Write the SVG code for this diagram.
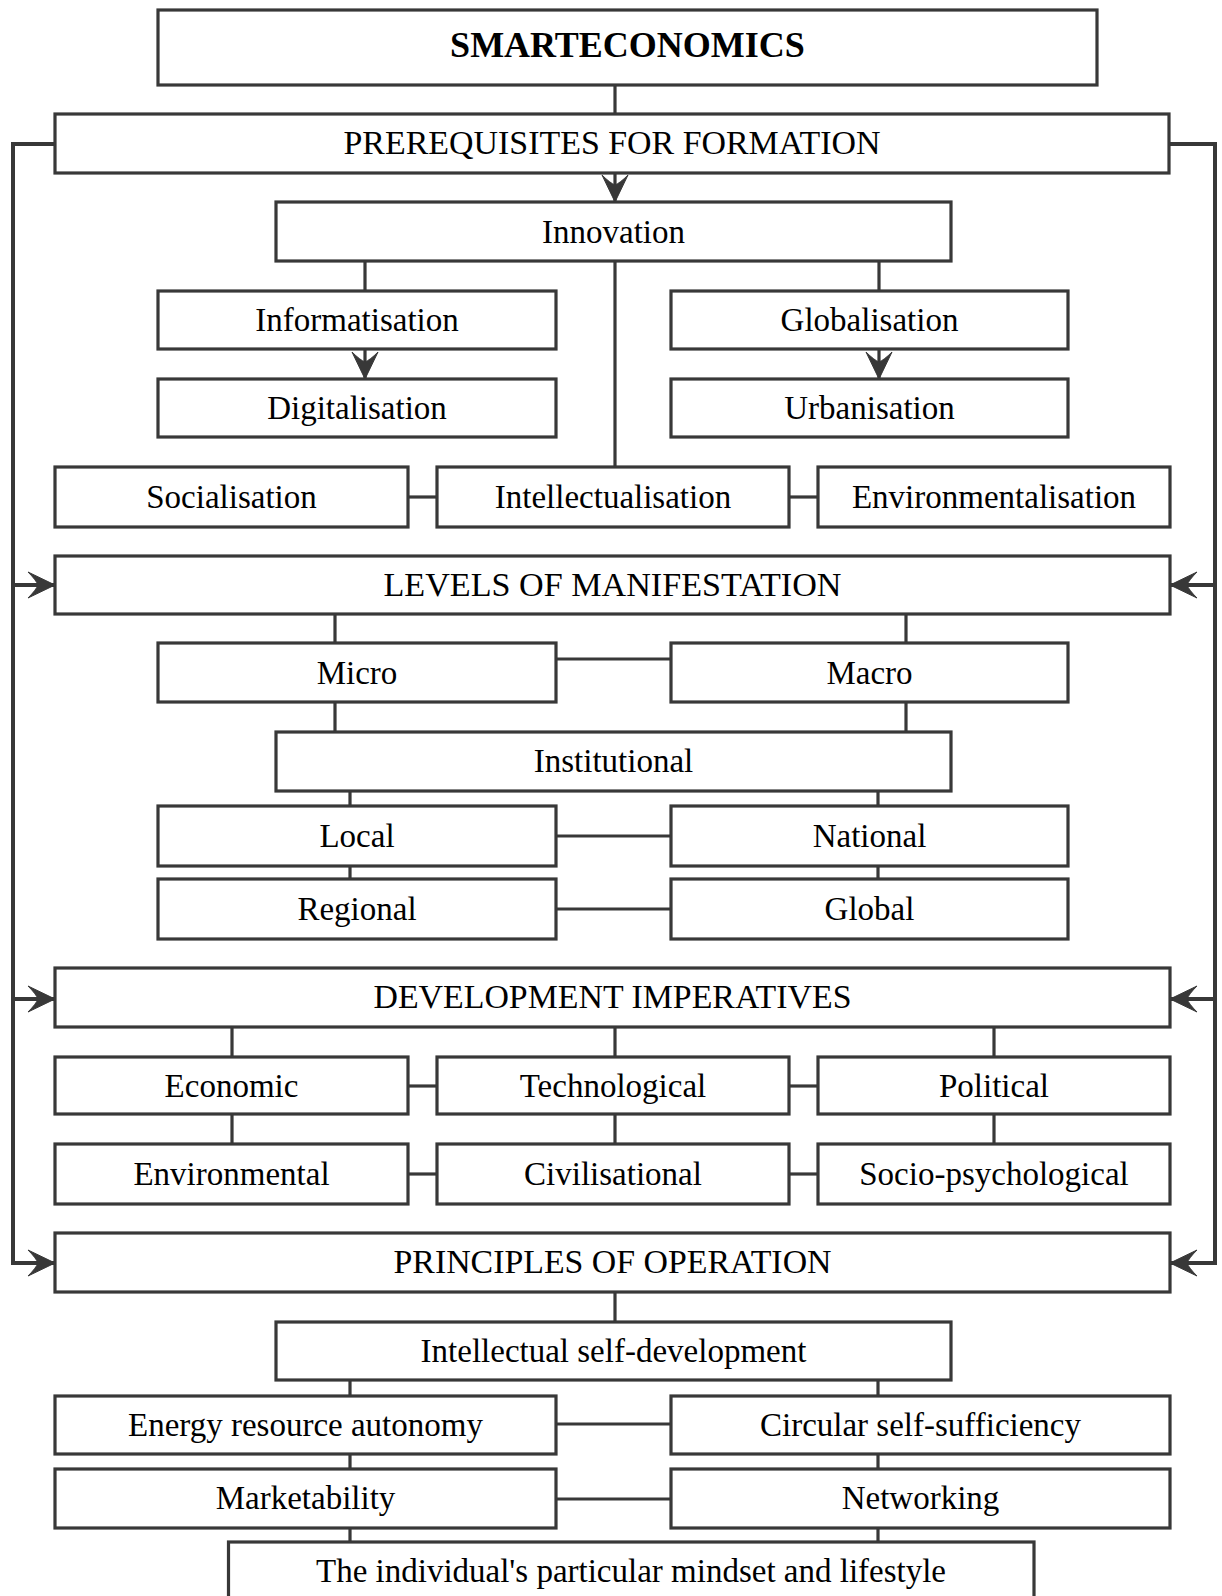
<svg xmlns="http://www.w3.org/2000/svg" width="1222" height="1596" viewBox="0 0 1222 1596">
  <style>
    .box { fill: #ffffff; stroke: #383838; stroke-width: 3.2; }
    .lbl { font-family: "Liberation Serif", "Times New Roman", serif; font-size: 33px; fill: #000; text-anchor: middle; }
    .title { font-weight: bold; font-size: 36px; }
    .ln { fill: none; stroke: #383838; stroke-width: 3.2; }
    .side { fill: none; stroke: #383838; stroke-width: 4; }
  </style>
  <defs>
    <marker id="arr" markerUnits="userSpaceOnUse" viewBox="0 0 28 28" refX="27" refY="14" markerWidth="28" markerHeight="28" orient="auto">
      <path d="M28,14 L1,1 Q9,9 11,14 Q9,19 1,27 Z" fill="#383838" stroke="#383838" stroke-width="1" stroke-linejoin="round"/>
    </marker>
  </defs>

  <!-- connectors -->
  <g id="connectors">
    <line class="ln" x1="615" y1="85" x2="615" y2="114"/>
    <line class="ln" x1="615" y1="173" x2="615" y2="201" marker-end="url(#arr)"/>
    <line class="ln" x1="365" y1="261" x2="365" y2="291"/>
    <line class="ln" x1="615" y1="261" x2="615" y2="467"/>
    <line class="ln" x1="879" y1="261" x2="879" y2="291"/>
    <line class="ln" x1="365" y1="349" x2="365" y2="378" marker-end="url(#arr)"/>
    <line class="ln" x1="879" y1="349" x2="879" y2="378" marker-end="url(#arr)"/>
    <line class="ln" x1="408" y1="497" x2="437" y2="497"/>
    <line class="ln" x1="789" y1="497" x2="818" y2="497"/>

    <!-- feedback rails -->
    <path class="side" d="M55,144 H13 V1263 H54" marker-end="url(#arr)"/>
    <line class="side" x1="13" y1="585" x2="54" y2="585" marker-end="url(#arr)"/>
    <line class="side" x1="13" y1="999" x2="54" y2="999" marker-end="url(#arr)"/>
    <path class="side" d="M1169,144 H1215 V1263 H1171" marker-end="url(#arr)"/>
    <line class="side" x1="1215" y1="585" x2="1171" y2="585" marker-end="url(#arr)"/>
    <line class="side" x1="1215" y1="999" x2="1171" y2="999" marker-end="url(#arr)"/>

    <line class="ln" x1="335" y1="614" x2="335" y2="643"/>
    <line class="ln" x1="906" y1="614" x2="906" y2="643"/>
    <line class="ln" x1="556" y1="659" x2="671" y2="659"/>
    <line class="ln" x1="335" y1="702" x2="335" y2="732"/>
    <line class="ln" x1="906" y1="702" x2="906" y2="732"/>
    <line class="ln" x1="350" y1="791" x2="350" y2="806"/>
    <line class="ln" x1="878" y1="791" x2="878" y2="806"/>
    <line class="ln" x1="556" y1="836" x2="671" y2="836"/>
    <line class="ln" x1="350" y1="866" x2="350" y2="879"/>
    <line class="ln" x1="878" y1="866" x2="878" y2="879"/>
    <line class="ln" x1="556" y1="909" x2="671" y2="909"/>

    <line class="ln" x1="232" y1="1027" x2="232" y2="1057"/>
    <line class="ln" x1="615" y1="1027" x2="615" y2="1057"/>
    <line class="ln" x1="994" y1="1027" x2="994" y2="1057"/>
    <line class="ln" x1="232" y1="1114" x2="232" y2="1144"/>
    <line class="ln" x1="615" y1="1114" x2="615" y2="1144"/>
    <line class="ln" x1="994" y1="1114" x2="994" y2="1144"/>
    <line class="ln" x1="408" y1="1086" x2="437" y2="1086"/>
    <line class="ln" x1="789" y1="1086" x2="818" y2="1086"/>
    <line class="ln" x1="408" y1="1174" x2="437" y2="1174"/>
    <line class="ln" x1="789" y1="1174" x2="818" y2="1174"/>

    <line class="ln" x1="615" y1="1292" x2="615" y2="1322"/>
    <line class="ln" x1="350" y1="1380" x2="350" y2="1396"/>
    <line class="ln" x1="878" y1="1380" x2="878" y2="1396"/>
    <line class="ln" x1="556" y1="1424" x2="671" y2="1424"/>
    <line class="ln" x1="350" y1="1454" x2="350" y2="1469"/>
    <line class="ln" x1="878" y1="1454" x2="878" y2="1469"/>
    <line class="ln" x1="556" y1="1499" x2="671" y2="1499"/>
    <line class="ln" x1="350" y1="1528" x2="350" y2="1542"/>
    <line class="ln" x1="878" y1="1528" x2="878" y2="1542"/>
  </g>

  <!-- nodes -->
  <g id="smarteconomics"><rect class="box" x="158" y="10" width="939" height="75"/><text class="lbl title" x="627.5" y="57">SMARTECONOMICS</text></g>
  <g id="prerequisites"><rect class="box" x="55" y="114" width="1114" height="59"/><text class="lbl" x="612" y="154" textLength="537" lengthAdjust="spacingAndGlyphs">PREREQUISITES FOR FORMATION</text></g>
  <g id="innovation"><rect class="box" x="276" y="202" width="675" height="59"/><text class="lbl" x="613.5" y="243">Innovation</text></g>
  <g id="informatisation"><rect class="box" x="158" y="291" width="398" height="58"/><text class="lbl" x="357" y="331">Informatisation</text></g>
  <g id="digitalisation"><rect class="box" x="158" y="379" width="398" height="58"/><text class="lbl" x="357" y="419">Digitalisation</text></g>
  <g id="globalisation"><rect class="box" x="671" y="291" width="397" height="58"/><text class="lbl" x="869.5" y="331">Globalisation</text></g>
  <g id="urbanisation"><rect class="box" x="671" y="379" width="397" height="58"/><text class="lbl" x="869.5" y="419">Urbanisation</text></g>
  <g id="socialisation"><rect class="box" x="55" y="467" width="353" height="60"/><text class="lbl" x="231.5" y="508">Socialisation</text></g>
  <g id="intellectualisation"><rect class="box" x="437" y="467" width="352" height="60"/><text class="lbl" x="613" y="508">Intellectualisation</text></g>
  <g id="environmentalisation"><rect class="box" x="818" y="467" width="352" height="60"/><text class="lbl" x="994" y="508">Environmentalisation</text></g>

  <g id="levels"><rect class="box" x="55" y="556" width="1115" height="58"/><text class="lbl" x="612.5" y="596" textLength="458" lengthAdjust="spacingAndGlyphs">LEVELS OF MANIFESTATION</text></g>
  <g id="micro"><rect class="box" x="158" y="643" width="398" height="59"/><text class="lbl" x="357" y="683.5">Micro</text></g>
  <g id="macro"><rect class="box" x="671" y="643" width="397" height="59"/><text class="lbl" x="869.5" y="683.5">Macro</text></g>
  <g id="institutional"><rect class="box" x="276" y="732" width="675" height="59"/><text class="lbl" x="613.5" y="772">Institutional</text></g>
  <g id="local"><rect class="box" x="158" y="806" width="398" height="60"/><text class="lbl" x="357" y="847">Local</text></g>
  <g id="national"><rect class="box" x="671" y="806" width="397" height="60"/><text class="lbl" x="869.5" y="847">National</text></g>
  <g id="regional"><rect class="box" x="158" y="879" width="398" height="60"/><text class="lbl" x="357" y="920">Regional</text></g>
  <g id="global"><rect class="box" x="671" y="879" width="397" height="60"/><text class="lbl" x="869.5" y="920">Global</text></g>

  <g id="development"><rect class="box" x="55" y="968" width="1115" height="59"/><text class="lbl" x="612.5" y="1008" textLength="478" lengthAdjust="spacingAndGlyphs">DEVELOPMENT IMPERATIVES</text></g>
  <g id="economic"><rect class="box" x="55" y="1057" width="353" height="57"/><text class="lbl" x="231.5" y="1096.5">Economic</text></g>
  <g id="technological"><rect class="box" x="437" y="1057" width="352" height="57"/><text class="lbl" x="613" y="1096.5">Technological</text></g>
  <g id="political"><rect class="box" x="818" y="1057" width="352" height="57"/><text class="lbl" x="994" y="1096.5">Political</text></g>
  <g id="environmental"><rect class="box" x="55" y="1144" width="353" height="60"/><text class="lbl" x="231.5" y="1185">Environmental</text></g>
  <g id="civilisational"><rect class="box" x="437" y="1144" width="352" height="60"/><text class="lbl" x="613" y="1185">Civilisational</text></g>
  <g id="socio-psychological"><rect class="box" x="818" y="1144" width="352" height="60"/><text class="lbl" x="994" y="1185">Socio-psychological</text></g>

  <g id="principles"><rect class="box" x="55" y="1233" width="1115" height="59"/><text class="lbl" x="612.5" y="1273" textLength="438" lengthAdjust="spacingAndGlyphs">PRINCIPLES OF OPERATION</text></g>
  <g id="self-development"><rect class="box" x="276" y="1322" width="675" height="58"/><text class="lbl" x="613.5" y="1362">Intellectual self-development</text></g>
  <g id="energy-autonomy"><rect class="box" x="55" y="1396" width="501" height="58"/><text class="lbl" x="305.5" y="1436">Energy resource autonomy</text></g>
  <g id="circular"><rect class="box" x="671" y="1396" width="499" height="58"/><text class="lbl" x="920.5" y="1436">Circular self-sufficiency</text></g>
  <g id="marketability"><rect class="box" x="55" y="1469" width="501" height="59"/><text class="lbl" x="305.5" y="1509">Marketability</text></g>
  <g id="networking"><rect class="box" x="671" y="1469" width="499" height="59"/><text class="lbl" x="920.5" y="1509">Networking</text></g>
  <g id="mindset"><rect class="box" x="228.5" y="1542" width="805.5" height="80"/><text class="lbl" x="631" y="1582">The individual's particular mindset and lifestyle</text></g>
</svg>
